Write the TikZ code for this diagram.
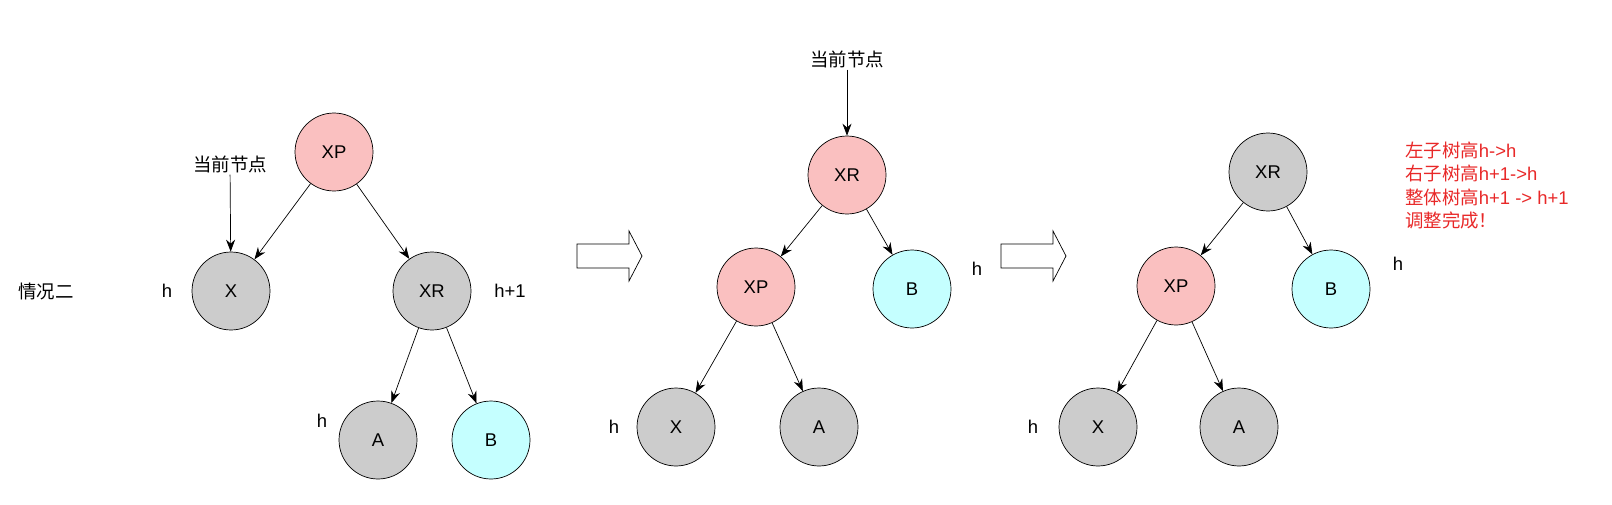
\documentclass[tikz,border=0pt]{standalone}
\usepackage{fontspec}
\usepackage{xcolor}
\usetikzlibrary{arrows.meta}
\setmainfont{Liberation Sans}
\newfontfamily\cjk{Noto Sans CJK SC}
\definecolor{nodepink}{RGB}{250,192,192}
\definecolor{nodegray}{RGB}{204,204,204}
\definecolor{nodecyan}{RGB}{197,255,255}
\definecolor{notered}{RGB}{232,40,40}
% hollow block arrow, left end at #1
\newcommand{\blockarrow}[1]{%
  \draw[thin,fill=white] (#1) ++(0,-12) -- ++(52,0) -- ++(0,-13) -- ++(13,25)
    -- ++(-13,25) -- ++(0,-13) -- ++(-52,0) -- cycle;}

\begin{document}
\begin{tikzpicture}[x=0.02cm,y=-0.02cm,
    every node/.style={font=\fontsize{10.5}{13}\selectfont},
    tnode/.style={circle,draw,thin,minimum size=1.56cm,inner sep=0pt},
    pinknode/.style={tnode,fill=nodepink},
    graynode/.style={tnode,fill=nodegray},
    cyannode/.style={tnode,fill=nodecyan},
    lbl/.style={inner sep=1pt},
    edge/.style={-{Stealth[length=2.4mm,width=1.8mm]},thin}]
  \useasboundingbox (0,0) rectangle (1612,504);
  % left: before rotation
  \node[lbl] (case) at (46,291) {\cjk 情况二};
  \node[pinknode] (lxp) at (334,152) {XP};
  \node[graynode] (lx) at (231,291) {X};
  \node[graynode] (lxr) at (432,291) {XR};
  \node[graynode] (la) at (378,440) {A};
  \node[cyannode] (lb) at (491,440) {B};
  \node[lbl] (lcur) at (230,164) {\cjk 当前节点};
  \node[lbl] (lhx) at (167,291) {h};
  \node[lbl] (lhxr) at (510,291) {h+1};
  \node[lbl] (lha) at (322,421) {h};
  \draw[edge] (lcur) -- (lx);
  \draw[edge] (lxp) -- (lx);
  \draw[edge] (lxp) -- (lxr);
  \draw[edge] (lxr) -- (la);
  \draw[edge] (lxr) -- (lb);
  \coordinate (arr1) at (577,256);
  \blockarrow{arr1}
  % middle: after left rotation
  \node[pinknode] (mxr) at (847,175) {XR};
  \node[pinknode] (mxp) at (756,287) {XP};
  \node[cyannode] (mb) at (912,289) {B};
  \node[graynode] (mx) at (676,427) {X};
  \node[graynode] (ma) at (819,427) {A};
  \node[lbl] (mcur) at (847,59) {\cjk 当前节点};
  \node[lbl] (mhb) at (977,269) {h};
  \node[lbl] (mhx) at (614,427) {h};
  \draw[edge] (mcur) -- (mxr);
  \draw[edge] (mxr) -- (mxp);
  \draw[edge] (mxr) -- (mb);
  \draw[edge] (mxp) -- (mx);
  \draw[edge] (mxp) -- (ma);
  \coordinate (arr2) at (1001,256);
  \blockarrow{arr2}
  % right: recoloured
  \node[graynode] (rxr) at (1268,172) {XR};
  \node[pinknode] (rxp) at (1176,286) {XP};
  \node[cyannode] (rb) at (1331,289) {B};
  \node[graynode] (rx) at (1098,427) {X};
  \node[graynode] (ra) at (1239,427) {A};
  \node[lbl] (rhb) at (1398,264) {h};
  \node[lbl] (rhx) at (1033,427) {h};
  \draw[edge] (rxr) -- (rxp);
  \draw[edge] (rxr) -- (rb);
  \draw[edge] (rxp) -- (rx);
  \draw[edge] (rxp) -- (ra);
  \node[lbl,anchor=north west,align=left,text=notered,
    font=\fontsize{10.5}{13.2}\selectfont] (note) at (1403,140)
    {{\cjk 左子树高}h-{}>h\\{\cjk 右子树高}h+1-{}>h\\{\cjk 整体树高}h+1 -{}> h+1\\{\cjk 调整完成！}};
\end{tikzpicture}
\end{document}
